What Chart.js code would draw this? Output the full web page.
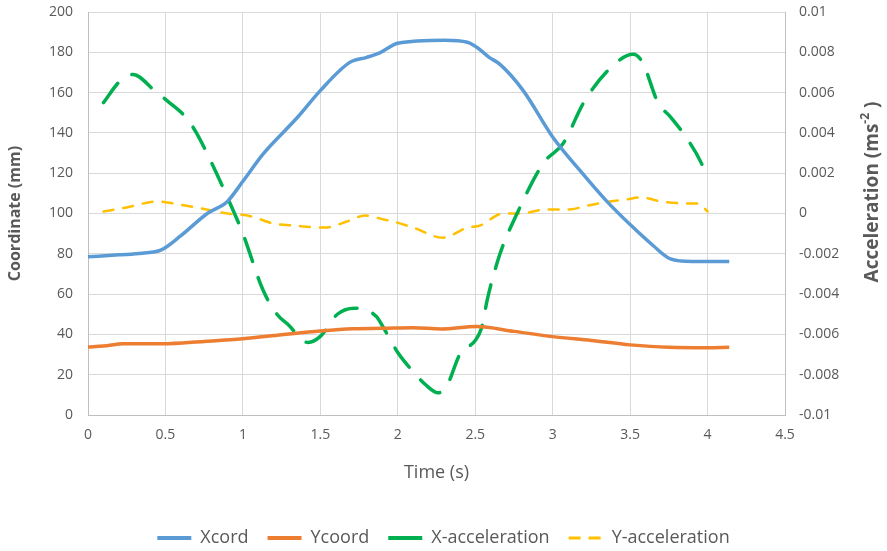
<!DOCTYPE html>
<html>
<head>
<meta charset="utf-8">
<script src="https://cdn.jsdelivr.net/npm/chart.js@4/dist/chart.umd.min.js"></script>
<style>
  html, body { margin: 0; padding: 0; background: #fff; }
</style>
</head>
<body>
<canvas id="chart" width="887" height="551"></canvas>
<script>
// Data
const xcordTime = [0, 0.2, 0.35, 0.47, 0.6, 0.77, 0.9, 1.0, 1.13, 1.35, 1.5, 1.69, 1.8, 1.89, 2.0, 2.3, 2.45, 2.51, 2.59, 2.66, 2.81, 3.0, 3.18, 3.35, 3.5, 3.65, 3.76, 3.9, 4.14];
const xcord = [78.5, 79.5, 80.3, 81.8, 89, 100, 106, 116, 129.5, 147.5, 161, 175, 177.5, 180, 184.5, 186, 185, 182.5, 177.5, 174, 161, 138, 121, 106, 94.5, 84, 77.5, 76.2, 76.2];

const ycoordTime = [0, 0.1, 0.23, 0.48, 0.75, 1.0, 1.25, 1.5, 1.71, 1.9, 2.1, 2.28, 2.51, 2.75, 3.0, 3.25, 3.5, 3.75, 4.0, 4.14];
const ycoord = [33.8, 34.2, 35.3, 35.3, 36.5, 37.8, 39.8, 41.7, 42.8, 43, 43.3, 42.7, 43.9, 41.5, 38.9, 37, 34.8, 33.6, 33.4, 33.6];

const xAccTime = [0.1, 0.21, 0.29, 0.43, 0.51, 0.64, 0.7, 0.78, 0.9, 1.0, 1.13, 1.22, 1.29, 1.42, 1.5, 1.61, 1.72, 1.86, 1.91, 2.0, 2.06, 2.18, 2.26, 2.32, 2.4, 2.5, 2.54, 2.58, 2.66, 2.77, 2.94, 3.07, 3.2, 3.37, 3.52, 3.58, 3.68, 3.76, 3.86, 3.96, 4.0];
const xAcc = [0.0055, 0.0066, 0.0069, 0.0061, 0.0056, 0.0047, 0.0040, 0.0028, 0.0008, -0.001, -0.0038, -0.005, -0.0055, -0.0064, -0.0061, -0.005, -0.0047, -0.0051, -0.0057, -0.0069, -0.0075, -0.0085, -0.0089, -0.0085, -0.007, -0.0063, -0.0057, -0.0042, -0.002, 0.0, 0.0025, 0.0035, 0.0055, 0.0072, 0.0079, 0.0075, 0.0055, 0.0048, 0.0038, 0.0025, 0.0017];

const yAccTime = [0.1, 0.25, 0.45, 0.55, 0.7, 0.9, 1.03, 1.2, 1.33, 1.53, 1.67, 1.79, 1.91, 1.97, 2.1, 2.29, 2.45, 2.53, 2.68, 2.79, 2.96, 3.1, 3.23, 3.37, 3.48, 3.57, 3.7, 3.87, 3.94, 4.0];
const yAcc = [0.0001, 0.0003, 0.0006, 0.0005, 0.0003, 0.0, -0.0001, -0.0005, -0.0006, -0.0007, -0.0004, -0.0001, -0.0003, -0.0004, -0.0007, -0.0012, -0.0007, -0.0006, 0.0, 0.0, 0.0002, 0.0002, 0.0004, 0.0006, 0.0007, 0.0008, 0.0006, 0.0005, 0.0005, 0.0001];

const FONT = '"Open Sans", "DejaVu Sans", sans-serif';
const GREY = '#595959';

const toPoints = (ts, vs) => ts.map((t, i) => ({ x: t, y: vs[i] }));

// right axis title reads bottom-to-top with a superscript, so draw it here
const rightTitle = {
    id: 'rightTitle',
    afterDraw(chart) {
        const ctx = chart.ctx;
        const parts = [
            { text: 'Acceleration (ms', size: 19, dy: 0 },
            { text: '-2', size: 12, dy: -7 },
            { text: ' )', size: 19, dy: 0 }
        ];
        ctx.save();
        ctx.fillStyle = GREY;
        ctx.textBaseline = 'middle';
        ctx.textAlign = 'left';
        let total = 0;
        parts.forEach(p => {
            ctx.font = 'bold ' + p.size + 'px ' + FONT;
            p.w = ctx.measureText(p.text).width;
            total += p.w;
        });
        ctx.translate(873, 192);
        ctx.rotate(-Math.PI / 2);
        let x = -total / 2;
        parts.forEach(p => {
            ctx.font = 'bold ' + p.size + 'px ' + FONT;
            ctx.fillText(p.text, x, p.dy);
            x += p.w;
        });
        ctx.restore();
    }
};

// fixed axis sizes; drop the label overhang so the plot spans the full height
const fixWidth = w => s => { s.width = w; s.paddingTop = 0; s.paddingBottom = 0; };

new Chart(document.getElementById('chart').getContext('2d'), {
    type: 'line',
    data: {
        datasets: [
            { label: 'Xcord', data: toPoints(xcordTime, xcord), yAxisID: 'y',
              borderColor: '#5B9BD5', backgroundColor: '#5B9BD5', borderWidth: 3.5 },
            { label: 'Ycoord', data: toPoints(ycoordTime, ycoord), yAxisID: 'y',
              borderColor: '#ED7D31', backgroundColor: '#ED7D31', borderWidth: 3.5 },
            { label: 'X-acceleration', data: toPoints(xAccTime, xAcc), yAxisID: 'y1',
              borderColor: '#00B050', backgroundColor: '#00B050', borderWidth: 3.5,
              borderDash: [24, 17], borderCapStyle: 'round' },
            { label: 'Y-acceleration', data: toPoints(yAccTime, yAcc), yAxisID: 'y1',
              borderColor: '#FFC000', backgroundColor: '#FFC000', borderWidth: 2.5,
              borderDash: [10, 10], borderCapStyle: 'round' }
        ]
    },
    options: {
        responsive: false,
        animation: false,
        devicePixelRatio: 1,
        layout: { padding: { top: 12, right: 0, bottom: -6, left: 0 } },
        elements: {
            point: { radius: 0 },
            line: { cubicInterpolationMode: 'monotone' }
        },
        plugins: {
            tooltip: { enabled: false },
            legend: {
                position: 'bottom',
                labels: {
                    usePointStyle: true,
                    pointStyle: 'line',
                    pointStyleWidth: 34,
                    padding: 19,
                    color: GREY,
                    font: { family: FONT, size: 18 },
                    generateLabels(chart) {
                        const items = Chart.defaults.plugins.legend.labels.generateLabels(chart);
                        items.forEach(it => {
                            it.lineWidth = it.text === 'Y-acceleration' ? 3 : 4;
                            if (it.text === 'X-acceleration') it.lineDash = [];
                            if (it.text === 'Y-acceleration') it.lineDash = [12, 8];
                        });
                        return items;
                    }
                }
            }
        },
        scales: {
            x: {
                type: 'linear',
                min: 0, max: 4.5,
                ticks: { stepSize: 0.5, color: GREY, font: { family: FONT, size: 14 }, padding: 12,
                         callback: v => String(+v.toFixed(2)) },
                grid: { color: '#D9D9D9', drawTicks: false },
                border: { color: '#BFBFBF' },
                title: { display: true, text: 'Time (s)', color: GREY,
                         font: { family: FONT, size: 18 }, padding: { top: 4, bottom: 26 } },
                afterFit: s => { s.height = 95; }
            },
            y: {
                position: 'left',
                min: 0, max: 200,
                ticks: { stepSize: 20, color: GREY, font: { family: FONT, size: 14 }, padding: 15 },
                grid: { color: '#D9D9D9', drawTicks: false },
                border: { color: '#BFBFBF' },
                title: { display: true, text: 'Coordinate (mm)', color: GREY,
                         font: { family: FONT, size: 16, weight: 'bold' }, padding: { top: 6, bottom: 0 } },
                afterFit: fixWidth(88)
            },
            y1: {
                position: 'right',
                min: -0.01, max: 0.01,
                ticks: { stepSize: 0.002, color: GREY, font: { family: FONT, size: 14 }, padding: 14,
                         callback: v => String(+v.toFixed(3)) },
                grid: { drawOnChartArea: false, drawTicks: false },
                border: { color: '#BFBFBF' },
                afterFit: fixWidth(102)
            }
        }
    },
    plugins: [rightTitle]
});
</script>
</body>
</html>
